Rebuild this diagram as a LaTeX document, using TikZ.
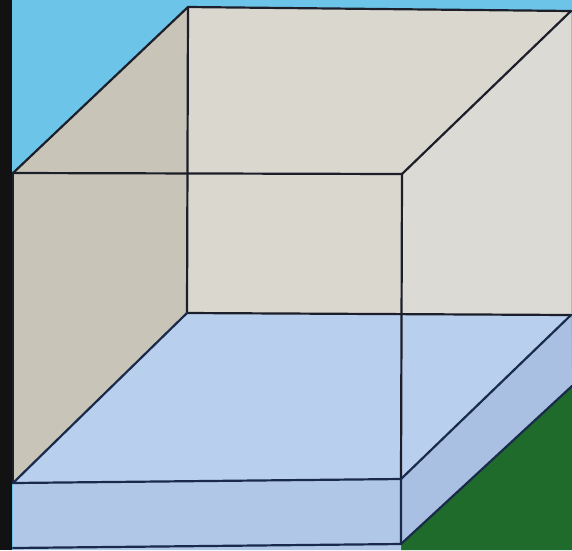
\documentclass[tikz,border=0pt]{standalone}
\usepackage{tikz}
\definecolor{sky}{HTML}{6CC4E8}
\definecolor{leftwall}{HTML}{C9C4B8}
\definecolor{backwall}{HTML}{DAD7CE}
\definecolor{rightwall}{HTML}{DCDAD4}
\definecolor{floorc}{HTML}{B8CFEE}
\definecolor{slabfront}{HTML}{B0C7E8}
\definecolor{slabside}{HTML}{A9C0E2}
\definecolor{grass}{HTML}{1E6B2B}
\definecolor{edge}{HTML}{1C1F2A}
\definecolor{edgeb}{HTML}{1A2A4A}
\tikzset{
  cubeedge/.style={draw=edge, line width=2.2pt, line cap=round, line join=round},
  flooredge/.style={draw=edgeb, line width=2.2pt, line cap=round, line join=round}
}
\begin{document}
\begin{tikzpicture}[x=1pt,y=-1pt]
\useasboundingbox (0,0) rectangle (572,550);
% background
\fill[sky] (0,0) rectangle (572,550);
\coordinate (A) at (188,7);
\coordinate (B) at (571,11);
\coordinate (C) at (13,173);
\coordinate (D) at (402,174);
\coordinate (E) at (187,313);
\coordinate (F) at (571,315);
\coordinate (G) at (13,483);
\coordinate (H) at (401,479);
\coordinate (I) at (13,548);
\coordinate (J) at (401,544);
\coordinate (K) at (572,386);
\fill[grass] (J) -- (K) -- (572,550) -- (401,550) -- cycle;
% walls
\fill[backwall] (A) -- (B) -- (F) -- (E) -- cycle;
\fill[leftwall] (C) -- (A) -- (E) -- (G) -- cycle;
\fill[rightwall] (D) -- (B) -- (F) -- (H) -- cycle;
% floor slab
\fill[floorc] (E) -- (F) -- (H) -- (G) -- cycle;
\fill[slabfront] (G) -- (H) -- (J) -- (401,550) -- (13,550) -- cycle;
\fill[slabside] (H) -- (F) -- (K) -- (J) -- cycle;
% edges
\draw[cubeedge] (C) -- (A) -- (B) -- (D) -- cycle;
\draw[cubeedge] (A) -- (E);
\draw[cubeedge] (E) -- (F);
\draw[cubeedge] (C) -- (G);
\draw[cubeedge] (D) -- (H);
\draw[flooredge] (E) -- (G) -- (H) -- (F);
\draw[flooredge] (H) -- (J) -- (I);
\draw[flooredge] (J) -- (K);
% black strip at left
\fill[black!93] (0,0) rectangle (12,550);
\end{tikzpicture}
\end{document}
